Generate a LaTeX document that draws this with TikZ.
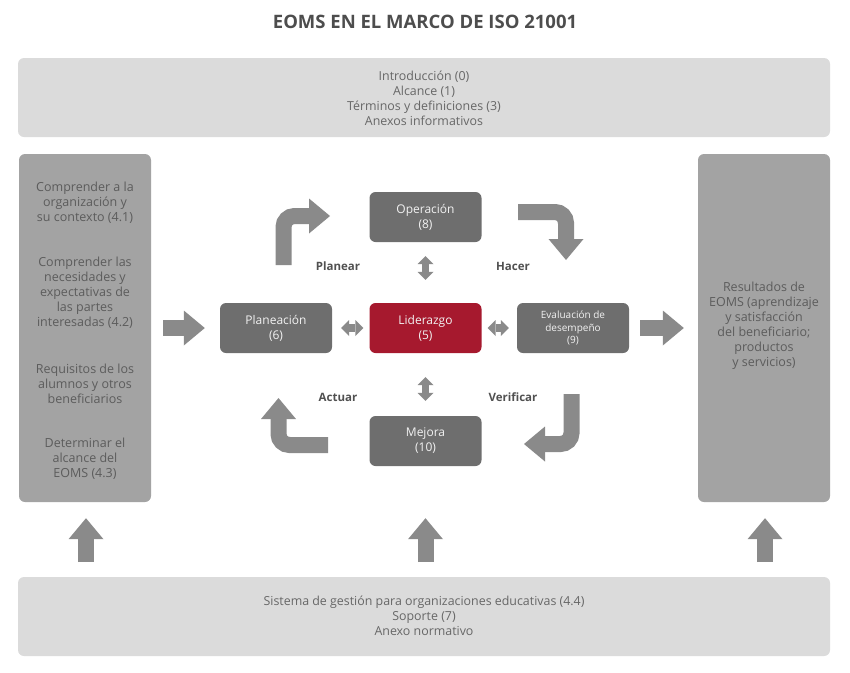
\documentclass[tikz,border=0pt]{standalone}
\usepackage{fontspec}
\setmainfont{Open Sans}
\usetikzlibrary{arrows.meta}
\definecolor{boxdark}{HTML}{6E6E6E}
\definecolor{lider}{HTML}{A6192E}
\definecolor{arrowgray}{HTML}{8A8A8A}
\definecolor{sidegray}{HTML}{A3A3A3}
\definecolor{panelgray}{HTML}{DBDBDB}
\definecolor{txtgray}{HTML}{676767}
\definecolor{sidetxt}{HTML}{5C5C5C}
\definecolor{titlegray}{HTML}{4D4D4D}
\definecolor{lbltxt}{HTML}{505050}
\begin{document}
\begin{tikzpicture}[x=1pt,y=-1pt,
  panel/.style={fill=panelgray, rounded corners=6pt, minimum width=812pt, minimum height=79pt, inner sep=0pt},
  side/.style={fill=sidegray, rounded corners=6pt, minimum width=132pt, minimum height=348pt, inner sep=0pt},
  core/.style={fill=boxdark, rounded corners=6pt, minimum width=112pt, minimum height=50pt, inner sep=0pt,
    text=white!95!black, align=center, font=\fontsize{12}{15}\selectfont},
  paneltext/.style={align=center, text=txtgray, font=\fontsize{12.4}{15}\selectfont, inner sep=0pt},
  sidetext/.style={align=center, text=sidetxt, font=\fontsize{12.5}{15}\selectfont, inner sep=0pt},
  lbl/.style={text=lbltxt, font=\bfseries\fontsize{11.5}{14}\selectfont, inner sep=0pt},
  bigarrow/.style={draw=arrowgray, line width=16pt, -{Triangle[width=35pt,length=21pt,line width=0pt]}},
  bendarrow/.style={bigarrow, rounded corners=11pt},
  dblarrow/.style={draw=arrowgray, line width=7.5pt,
    {Triangle[width=16pt,length=8pt,line width=0pt]}-{Triangle[width=16pt,length=8pt,line width=0pt]}}
]
\useasboundingbox (0,0) rectangle (850,672);

% title
\node[text=titlegray, font=\bfseries\fontsize{18.5}{22}\selectfont, inner sep=0pt] (title) at (425,22) {EOMS EN EL MARCO DE ISO 21001};

% top and bottom panels
\node[panel] (top) at (424,97.5) {};
\node[paneltext] (toptext) at (424,98) {Introducción (0)\\Alcance (1)\\Términos y definiciones (3)\\Anexos informativos};
\node[panel] (bot) at (424,616.5) {};
\node[paneltext] (bottext) at (424,616) {Sistema de gestión para organizaciones educativas (4.4)\\Soporte (7)\\Anexo normativo};

% side boxes
\node[side] (left) at (85,328) {};
\node[sidetext] (l1) at (85,203) {Comprender a la\\organización y\\su contexto (4.1)};
\node[sidetext] (l2) at (85,293) {Comprender las\\necesidades y\\expectativas de\\las partes\\interesadas (4.2)};
\node[sidetext] (l3) at (85,384) {Requisitos de los\\alumnos y otros\\beneficiarios};
\node[sidetext] (l4) at (85,459) {Determinar el\\alcance del\\EOMS (4.3)};
\node[side] (right) at (764,328) {};
\node[sidetext] (r1) at (764,326) {Resultados de\\EOMS (aprendizaje\\y satisfacción\\del beneficiario;\\productos\\y servicios)};

% core boxes
\node[core] (op) at (425.5,217) {Operación\\(8)};
\node[core] (plan) at (276,328) {Planeación\\(6)};
\node[core, fill=lider] (lid) at (425.5,328) {Liderazgo\\(5)};
\node[core, font=\fontsize{10}{12.5}\selectfont] (eval) at (573,328) {Evaluación de\\desempeño\\(9)};
\node[core] (mej) at (425.5,441) {Mejora\\(10)};

% labels
\node[lbl] (planear) at (338,266) {Planear};
\node[lbl] (hacer) at (513,266) {Hacer};
\node[lbl] (actuar) at (338,397) {Actuar};
\node[lbl] (verificar) at (513,397) {Verificar};

% big straight arrows
\draw[bigarrow, shorten <=12pt, shorten >=15pt] (left.east |- plan.west) -- (plan.west);
\draw[bigarrow, shorten <=11pt, shorten >=14pt] (eval.east) -- (right.west |- eval.east);

% up arrows from the bottom panel
\coordinate (ua1) at (86,577);
\coordinate (ua2) at (425.5,577);
\coordinate (ua3) at (765,577);
\draw[bigarrow, shorten <=15pt, shorten >=16pt] (ua1) -- (ua1 |- left.south);
\draw[bigarrow, shorten <=15pt, shorten >=52pt] (ua2) -- (mej.south);
\draw[bigarrow, shorten <=15pt, shorten >=16pt] (ua3) -- (ua3 |- right.south);

% double arrows around Liderazgo
\draw[dblarrow, shorten <=14pt, shorten >=23pt] (op.south) -- (lid.north);
\draw[dblarrow, shorten <=24pt, shorten >=15pt] (lid.south) -- (mej.north);
\draw[dblarrow, shorten <=9pt, shorten >=6pt] (plan.east) -- (lid.west);
\draw[dblarrow, shorten <=6pt, shorten >=8pt] (lid.east) -- (eval.west);

% PDCA bent arrows
\coordinate (pa0) at (283.5,265);
\coordinate (pa1) at (283.5,216);
\coordinate (pa2) at (330,216);
\draw[bendarrow] (pa0) -- (pa1) -- (pa2);
\coordinate (ha0) at (518,212);
\coordinate (ha1) at (566,212);
\coordinate (ha2) at (566,260);
\draw[bendarrow] (ha0) -- (ha1) -- (ha2);
\coordinate (va0) at (571.5,394);
\coordinate (va1) at (571.5,444);
\coordinate (va2) at (524,444);
\draw[bendarrow] (va0) -- (va1) -- (va2);
\coordinate (aa0) at (328,445);
\coordinate (aa1) at (278.5,445);
\coordinate (aa2) at (278.5,398);
\draw[bendarrow] (aa0) -- (aa1) -- (aa2);
\end{tikzpicture}
\end{document}
